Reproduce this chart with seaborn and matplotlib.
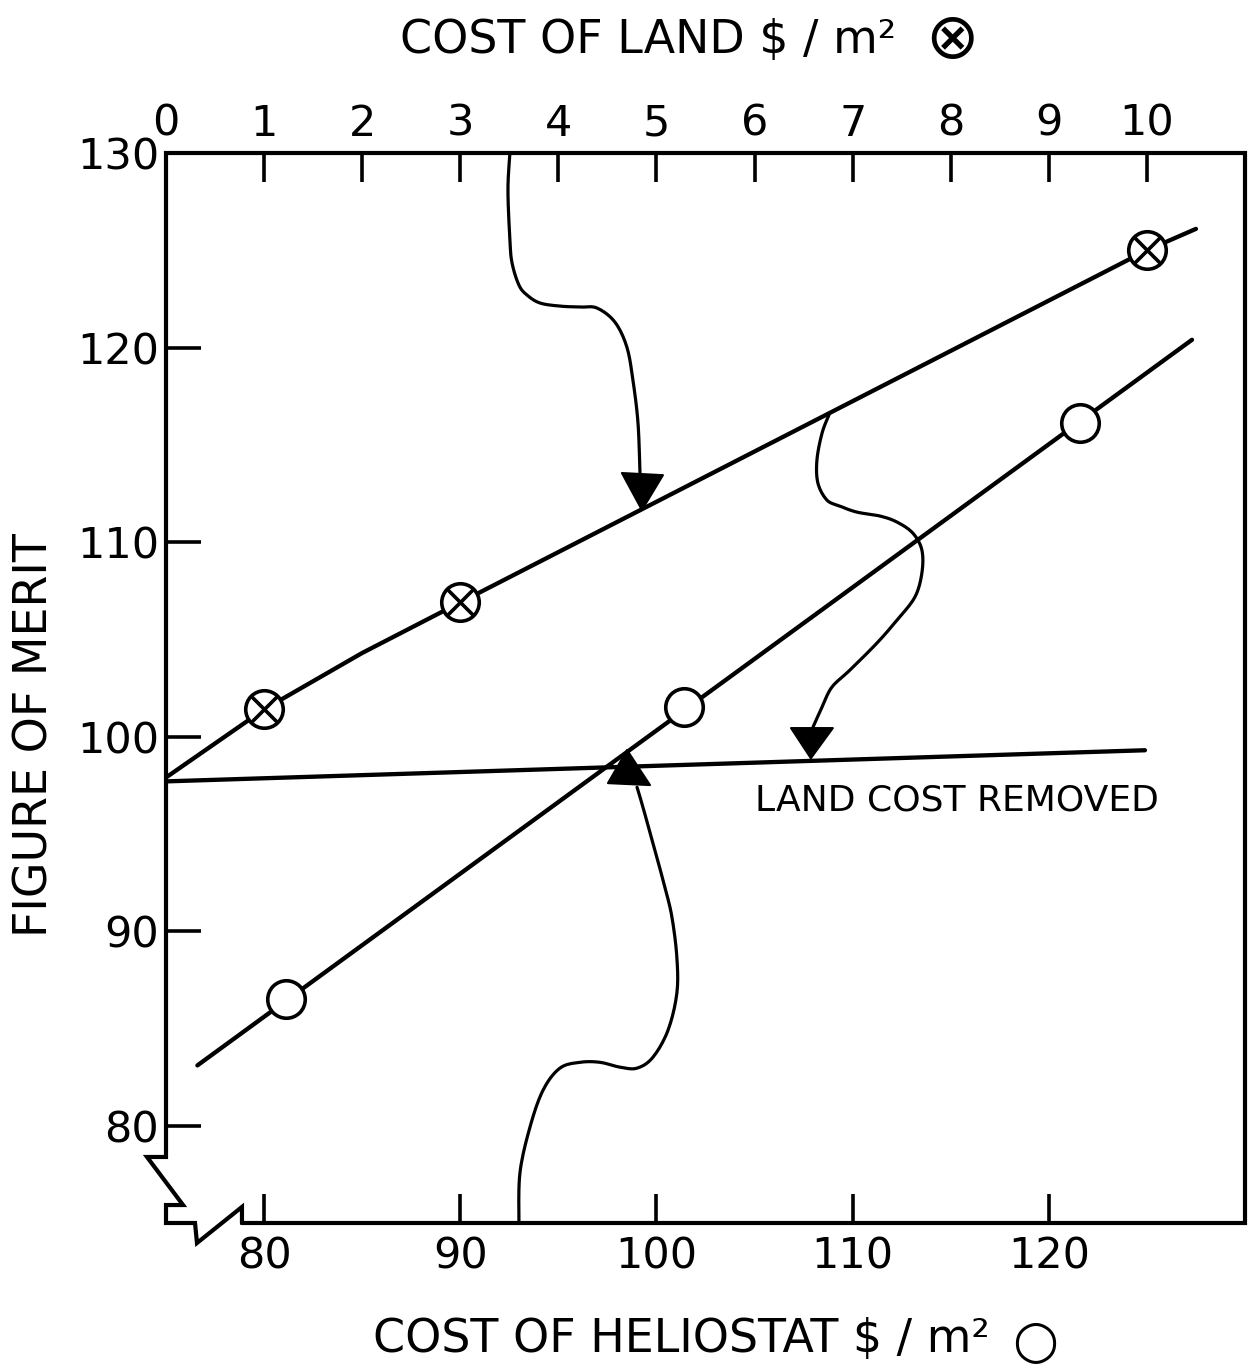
import matplotlib
matplotlib.use("Agg")
import matplotlib.pyplot as plt
import seaborn as sns
import numpy as np

# ---------------- data ----------------
land_ticks = [0, 1, 2, 3, 4, 5, 6, 7, 8, 9, 10]
helio_ticks = [80, 90, 100, 110, 120]
fom_ticks = [80, 90, 100, 110, 120, 130]

# land-cost series (top axis, $/m2)
land_pts_cost = [1, 3, 10]
land_pts_fom = [101.4, 106.9, 125.0]
land_curve_cost = [0, 1, 2, 3, 10, 10.5]
land_curve_fom = [97.9, 101.4, 104.3, 106.9, 125.0, 126.1]

# heliostat-cost series (bottom axis, $/m2)
helio_pts_cost = [81.1, 101.4, 121.6]
helio_pts_fom = [86.5, 101.5, 116.1]
helio_line_cost = [76.6, 127.3]
helio_line_fom = [83.1, 120.4]

# land cost removed
removed_cost = [75.0, 124.9]
removed_fom = [97.7, 99.3]

# annotation arrows (bottom-axis / FOM coordinates)
arrow1_x = [92.53, 92.43, 92.53, 92.64, 92.99, 93.40, 94.06, 95.08, 96.10, 96.97, 97.88, 98.49, 98.80, 99.06, 99.16]
arrow1_y = [130.0, 128.10, 125.53, 124.34, 123.21, 122.70, 122.29, 122.13, 122.08, 122.03, 121.31, 120.03, 118.33, 116.12, 113.55]
head1_x = [98.24, 100.33, 99.26]
head1_y = [113.55, 113.44, 111.65]

arrow2_x = [108.79, 108.44, 108.18, 108.23, 108.69, 109.35, 110.22, 111.39, 112.26, 113.07, 113.53, 113.53, 113.17, 112.26, 111.24, 109.86, 108.94, 108.44, 107.98]
arrow2_y = [116.53, 115.60, 114.22, 113.03, 112.16, 111.85, 111.54, 111.34, 111.03, 110.46, 109.59, 108.41, 107.17, 105.99, 104.81, 103.42, 102.54, 101.52, 100.49]
head2_x = [106.86, 108.99, 107.87]
head2_y = [100.44, 100.44, 98.89]

arrow3_x = [92.99, 93.04, 93.55, 94.22, 95.08, 96.10, 97.12, 98.14, 99.01, 99.82, 100.59, 101.04, 101.04, 100.79, 100.43, 99.92, 99.31, 99.01]
arrow3_y = [75.0, 77.56, 79.92, 81.83, 82.96, 83.26, 83.26, 83.01, 82.96, 83.52, 84.91, 86.81, 88.66, 90.72, 92.26, 94.16, 96.38, 97.40]
head3_x = [97.53, 99.67, 98.50]
head3_y = [97.61, 97.51, 99.31]


def smooth_path(xs, ys, n=10):
    """Catmull-Rom smoothing of a hand-drawn annotation stroke."""
    p = np.column_stack([xs, ys]).astype(float)
    p = np.vstack([p[0], p, p[-1]])
    out = []
    t = np.linspace(0, 1, n, endpoint=False)[:, None]
    for i in range(1, len(p) - 2):
        p0, p1, p2, p3 = p[i - 1], p[i], p[i + 1], p[i + 2]
        seg = 0.5 * ((2 * p1) + (-p0 + p2) * t + (2 * p0 - 5 * p1 + 4 * p2 - p3) * t ** 2
                     + (-p0 + 3 * p1 - 3 * p2 + p3) * t ** 3)
        out.append(seg)
    out.append(p[-2][None, :])
    out = np.vstack(out)
    return out[:, 0], out[:, 1]


# ---------------- style ----------------
sns.set_style("white")
plt.rcParams["font.family"] = ["DejaVu Sans"]
plt.rcParams["text.color"] = "black"
plt.rcParams["axes.labelcolor"] = "black"
plt.rcParams["xtick.color"] = "black"
plt.rcParams["ytick.color"] = "black"

fig = plt.figure(figsize=(12.5, 13.7), dpi=100)
ax = fig.add_axes([166 / 1250, 1 - 1223 / 1370, 1079 / 1250, 1070 / 1370])
ax2 = ax.twiny()

LW = 3.1
# heliostat line and markers
sns.lineplot(x=helio_line_cost, y=helio_line_fom, ax=ax, color="black",
             linewidth=LW, estimator=None, sort=False, zorder=3)
sns.lineplot(x=removed_cost, y=removed_fom, ax=ax, color="black",
             linewidth=LW, estimator=None, sort=False, zorder=3)
sns.scatterplot(x=helio_pts_cost, y=helio_pts_fom, ax=ax, marker="o", s=27 ** 2,
                facecolor="white", edgecolor="black", linewidth=2.6, zorder=5)

# annotation arrows
for xs, ys, hx, hy in [(arrow1_x, arrow1_y, head1_x, head1_y),
                       (arrow2_x, arrow2_y, head2_x, head2_y),
                       (arrow3_x, arrow3_y, head3_x, head3_y)]:
    sx, sy = smooth_path(xs, ys)
    ax.plot(sx, sy, color="black", linewidth=2.3, solid_joinstyle="round",
            solid_capstyle="round", zorder=3)
    ax.fill(hx, hy, color="black", zorder=4, linewidth=1.5, edgecolor="black",
            joinstyle="round")

ax.text(115.3, 96.74, "LAND COST REMOVED", fontsize=26, ha="center", va="center")

# land line and markers on the top axis
sns.lineplot(x=land_curve_cost, y=land_curve_fom, ax=ax2, color="black",
             linewidth=LW, estimator=None, sort=False, zorder=3)
sns.scatterplot(x=land_pts_cost, y=land_pts_fom, ax=ax2, marker="o", s=27 ** 2,
                facecolor="white", edgecolor="black", linewidth=2.6, zorder=5)
sns.scatterplot(x=land_pts_cost, y=land_pts_fom, ax=ax2, marker="x", s=18 ** 2,
                color="black", linewidth=2.6, zorder=6)

# limits & ticks
ax.set_xlim(75, 130)
ax.set_ylim(75, 130)
ax2.set_xlim(0, 11)
ax.set_xticks(helio_ticks)
ax.set_yticks(fom_ticks)
ax2.set_xticks(land_ticks)
ax.set_xticklabels([str(v) for v in helio_ticks])
ax.set_yticklabels([str(v) for v in fom_ticks])
ax2.set_xticklabels([str(v) for v in land_ticks])

ax.tick_params(axis="x", bottom=True, top=False, direction="in", length=21,
               width=2.6, labelsize=31, pad=9, color="black")
ax.tick_params(axis="y", left=True, right=False, direction="in", length=25,
               width=2.6, labelsize=31, pad=5, color="black")
ax2.tick_params(axis="x", top=True, bottom=False, direction="in", length=21,
                width=2.6, labelsize=31, pad=6, color="black")
ax2.tick_params(axis="y", left=False, right=False, labelleft=False, labelright=False)

for a in (ax, ax2):
    for s in a.spines.values():
        s.set_visible(False)
    a.grid(False)

ax.set_xlabel("COST OF HELIOSTAT \\$ / m²", fontsize=33)
ax.xaxis.set_label_coords(0.478, -0.109)
ax.xaxis.label.set_va("center")
ax.text(0.8054, -0.111, "○", transform=ax.transAxes, fontsize=38,
        ha="center", va="center")

ax2.set_xlabel("COST OF LAND \\$ / m²", fontsize=33)
ax2.xaxis.set_label_coords(0.4467, 1.1056)
ax2.xaxis.label.set_va("center")
ax2.text(0.7285, 1.1056, "⊗", transform=ax2.transAxes, fontsize=46,
         ha="center", va="center")

ax.set_ylabel("FIGURE OF MERIT", fontsize=33)
ax.yaxis.set_label_coords(-0.1214, 0.456)
ax.yaxis.label.set_va("center")

# frame with axis break (axes-fraction coordinates)
frame_x = [0.0704, 1, 1, 0, 0, -0.0176, 0.0158, 0, 0, 0.0269, 0.0287, 0.0704, 0.0704]
frame_y = [0, 0, 1, 1, 0.0617, 0.0617, 0.0168, 0.0168, 0, 0, -0.0187, 0.0150, 0]
ax.plot(frame_x, frame_y, transform=ax.transAxes, color="black", linewidth=3.0,
        clip_on=False, solid_joinstyle="miter", zorder=7)

fig.savefig("out.png", dpi=100, facecolor="white")
